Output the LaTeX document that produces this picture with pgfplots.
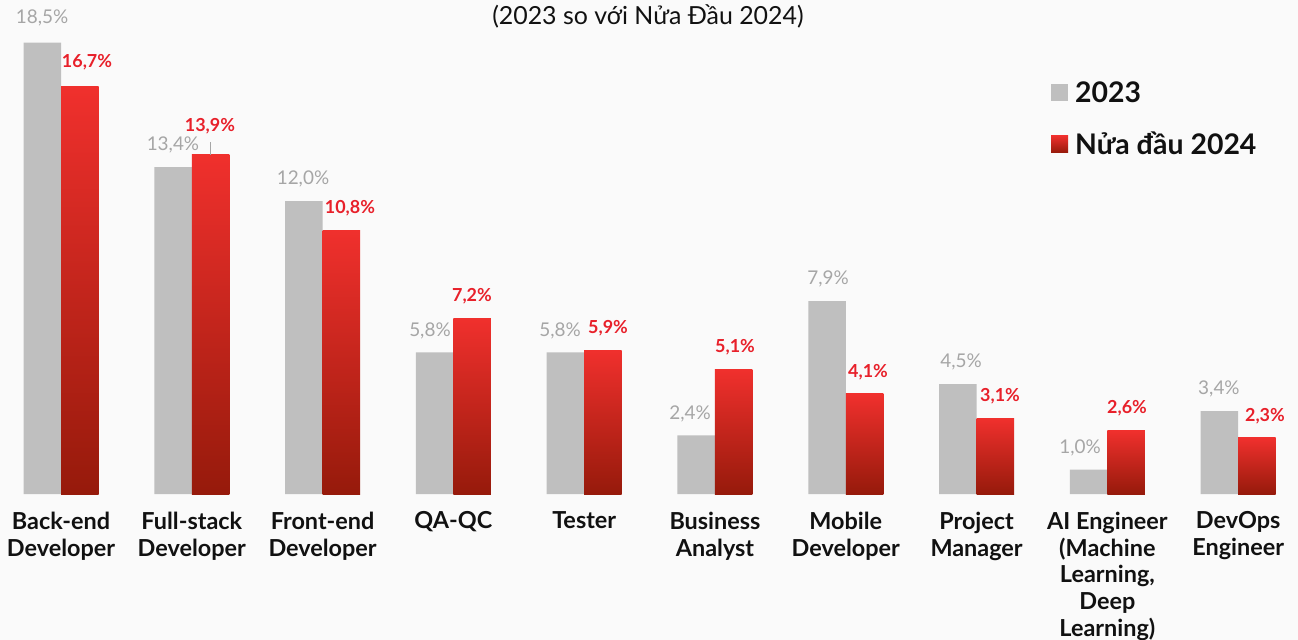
\documentclass[border=0pt]{standalone}
\usepackage{pgfplots}
\pgfplotsset{compat=1.18}
\usepackage{fontspec}
\setmainfont{Lato}
\definecolor{bg}{HTML}{FAFAFA}
\definecolor{barg}{HTML}{BFBFBF}
\definecolor{labg}{HTML}{A6A6A6}
\definecolor{labr}{HTML}{E8202A}
\definecolor{rtop}{HTML}{F0302D}
\definecolor{rmid}{HTML}{E02D29}
\definecolor{rbot}{HTML}{961A0B}
\definecolor{txt}{HTML}{111111}
\begin{document}
\begin{tikzpicture}
\useasboundingbox (0,-146bp) rectangle (1298bp,494bp);
\fill[bg] (0,-146bp) rectangle (1298bp,494bp);
\begin{axis}[
  scale only axis, width=1298bp, height=494bp,
  xmin=-0.4664, xmax=9.4572, ymin=0, ymax=20.246,
  ybar, bar width=37.5bp,
  axis line style={draw=none}, tick style={draw=none}, ytick=\empty,
  xtick={0,...,9},
  xticklabels={{Back-end\\Developer},{Full-stack\\Developer},{Front-end\\Developer},{QA-QC},{Tester},{Business\\Analyst},{Mobile\\Developer},{Project\\Manager},{AI Engineer\\(Machine\\Learning,\\Deep\\Learning)},{DevOps\\Engineer}},
  xticklabel style={align=center, font=\fontsize{23.5}{27}\selectfont\bfseries, text=txt, anchor=north, yshift=-10bp},
  clip=false,
  legend style={draw=none, fill=none, at={(rel axis cs:0.8074,0.843)}, anchor=north west,
    font=\fontsize{28.5}{32}\selectfont\bfseries, text=txt, row sep=24bp, cells={anchor=west}},
  legend image code/.code={\fill[#1] (0bp,-8.5bp) rectangle (17bp,8.5bp); \path (22bp,0bp);},
  redbar/.style={draw=none, bar shift=18.75bp, top color=rtop, middle color=rmid, bottom color=rbot},
]
\addplot[draw=none, fill=barg, bar shift=-18.75bp] coordinates {(0,18.5) (1,13.4) (2,12.0) (3,5.8) (4,5.8) (5,2.4) (6,7.9) (7,4.5) (8,1.0) (9,3.4)};
\addplot[redbar] coordinates {(0,16.7)};
\addplot[redbar, forget plot] coordinates {(1,13.9)};
\addplot[redbar, forget plot] coordinates {(2,10.8)};
\addplot[redbar, forget plot] coordinates {(3,7.2)};
\addplot[redbar, forget plot] coordinates {(4,5.9)};
\addplot[redbar, forget plot] coordinates {(5,5.1)};
\addplot[redbar, forget plot] coordinates {(6,4.1)};
\addplot[redbar, forget plot] coordinates {(7,3.1)};
\addplot[redbar, forget plot] coordinates {(8,2.6)};
\addplot[redbar, forget plot] coordinates {(9,2.3)};
\legend{2023, Nửa đầu 2024}
\node[font=\fontsize{25}{28}\selectfont, text=txt] at (rel axis cs:0.4992,0.9676) {(2023 so với Nửa Đầu 2024)};
\tikzset{gl/.style={text=labg, font=\fontsize{19}{22}\selectfont, yshift=22bp}}
\tikzset{rl/.style={text=labr, font=\fontsize{18}{21}\selectfont\bfseries, yshift=22bp}}
% gray labels
\node[gl, yshift=3bp] at (axis cs:-0.145,18.5) {18,5\%};
\node[gl] at (axis cs:0.856,13.4) {13,4\%};
\node[gl] at (axis cs:1.850,12.0) {12,0\%};
\node[gl] at (axis cs:2.821,5.8) {5,8\%};
\node[gl] at (axis cs:3.815,5.8) {5,8\%};
\node[gl] at (axis cs:4.809,2.4) {2,4\%};
\node[gl] at (axis cs:5.864,7.9) {7,9\%};
\node[gl] at (axis cs:6.881,4.5) {4,5\%};
\node[gl] at (axis cs:7.791,1.0) {1,0\%};
\node[gl] at (axis cs:8.853,3.4) {3,4\%};
% red labels
\node[rl, yshift=2bp] at (axis cs:0.199,16.7) {16,7\%};
\node[rl, yshift=7bp] at (axis cs:1.139,13.9) {13,9\%};
\node[rl] at (axis cs:2.209,10.8) {10,8\%};
\node[rl] at (axis cs:3.142,7.2) {7,2\%};
\node[rl] at (axis cs:4.182,5.9) {5,9\%};
\node[rl] at (axis cs:5.153,5.1) {5,1\%};
\node[rl] at (axis cs:6.170,4.1) {4,1\%};
\node[rl] at (axis cs:7.179,3.1) {3,1\%};
\node[rl] at (axis cs:8.150,2.6) {2,6\%};
\node[rl] at (axis cs:9.205,2.3) {2,3\%};
\draw[labg, line width=1.2bp] (axis cs:1.143,13.9) -- ([yshift=13bp]axis cs:1.143,13.9);
\end{axis}
\end{tikzpicture}
\end{document}
